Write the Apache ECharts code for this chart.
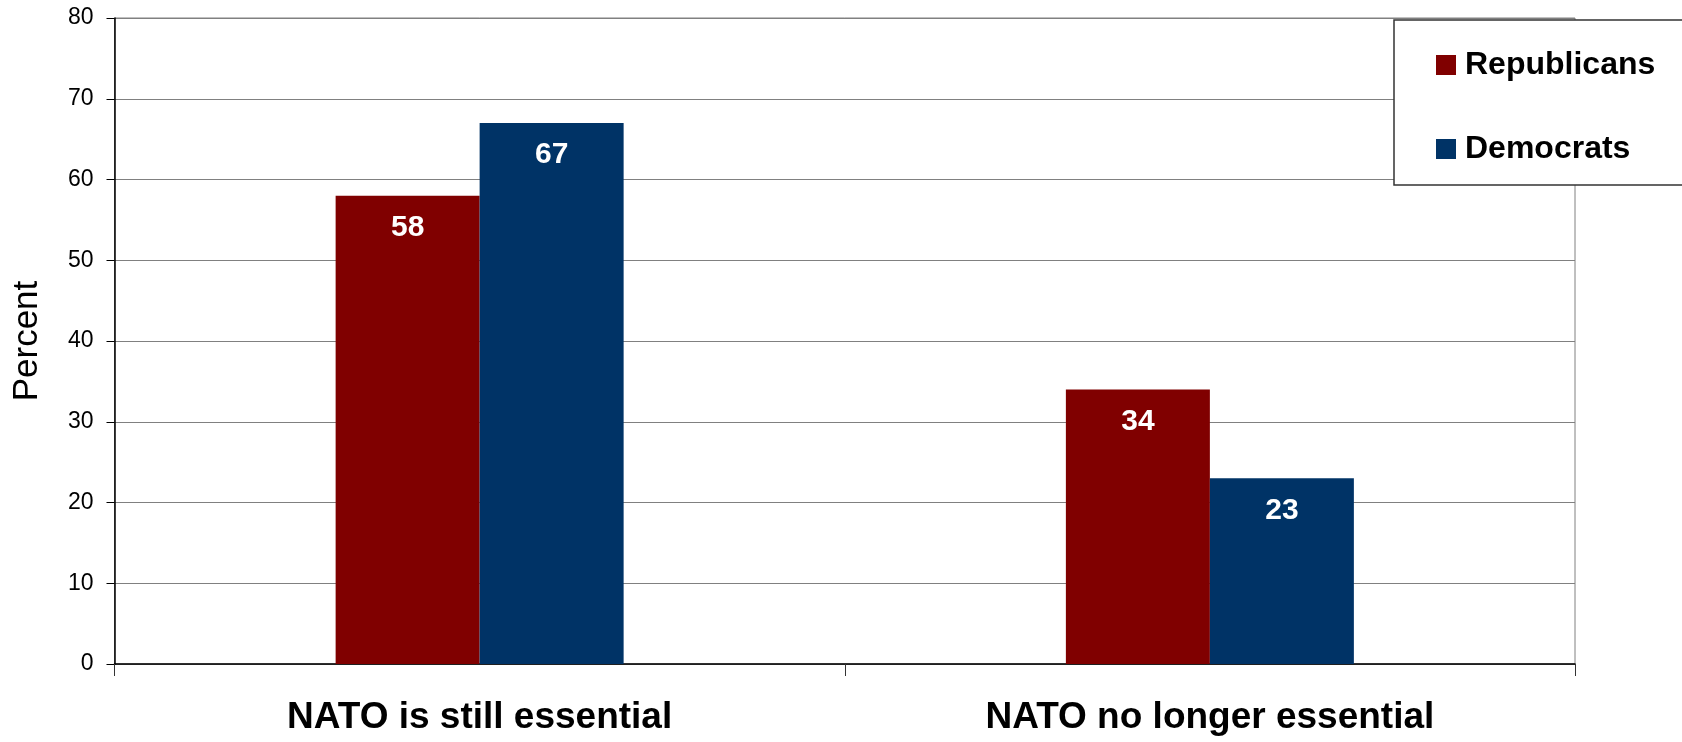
<!DOCTYPE html>
<html>
<head>
<meta charset="utf-8">
<script src="https://cdn.jsdelivr.net/npm/echarts@6/dist/echarts.min.js"></script>
<style>
  html, body { margin: 0; padding: 0; background: #fff; }
  #chart { width: 1682px; height: 742px; }
</style>
</head>
<body>
<div id="chart"></div>
<script>
const categories = ['NATO is still essential', 'NATO no longer essential'];
const republicans = [58, 34];
const democrats = [67, 23];
const yTicks = { min: 0, max: 80, interval: 10 };

const FONT = 'Arial, "Liberation Sans", sans-serif';
const chart = echarts.init(document.getElementById('chart'), null, { renderer: 'canvas' });

const labelCfg = {
  show: true,
  position: 'insideTop',
  distance: 17,
  color: '#ffffff',
  fontFamily: FONT,
  fontWeight: 'bold',
  fontSize: 30
};

chart.setOption({
  animation: false,
  backgroundColor: '#ffffff',
  grid: {
    left: 114.5, right: 107, top: 18, bottom: 78,
    show: true, borderColor: '#808080', borderWidth: 1
  },
  legend: {
    orient: 'vertical',
    left: 1394, top: 20,
    padding: [29, 28, 20, 42],
    itemGap: 52,
    itemWidth: 20, itemHeight: 20,
    icon: 'rect',
    backgroundColor: '#ffffff',
    borderColor: '#333333',
    borderWidth: 1.5,
    textStyle: { fontFamily: FONT, fontWeight: 'bold', fontSize: 32, lineHeight: 30, color: '#000', padding: [0, 0, 0, 4] },
    data: ['Republicans', 'Democrats']
  },
  xAxis: {
    type: 'category',
    data: categories,
    axisLine: { lineStyle: { color: '#000', width: 1.5 } },
    axisTick: { show: true, length: 12, lineStyle: { color: '#333' } },
    axisLabel: { margin: 35, fontFamily: FONT, fontWeight: 'bold', fontSize: 37, color: '#000' }
  },
  yAxis: {
    type: 'value',
    min: yTicks.min, max: yTicks.max, interval: yTicks.interval,
    name: 'Percent',
    nameLocation: 'middle',
    nameRotate: 90,
    nameGap: 70,
    nameTextStyle: { fontFamily: FONT, fontSize: 35, color: '#000' },
    axisLine: { show: true, lineStyle: { color: '#000', width: 1.5 } },
    axisTick: { show: true, length: 8, lineStyle: { color: '#000' } },
    axisLabel: { margin: 21, fontFamily: FONT, fontSize: 23, color: '#000' },
    splitLine: { show: true, lineStyle: { color: '#808080', width: 1.2 } }
  },
  series: [
    {
      name: 'Republicans', type: 'bar', data: republicans,
      barWidth: 144, barGap: '0%',
      itemStyle: { color: '#800000' },
      label: labelCfg
    },
    {
      name: 'Democrats', type: 'bar', data: democrats,
      barWidth: 144, barGap: '0%',
      itemStyle: { color: '#003366' },
      label: labelCfg
    }
  ]
});
</script>
</body>
</html>
